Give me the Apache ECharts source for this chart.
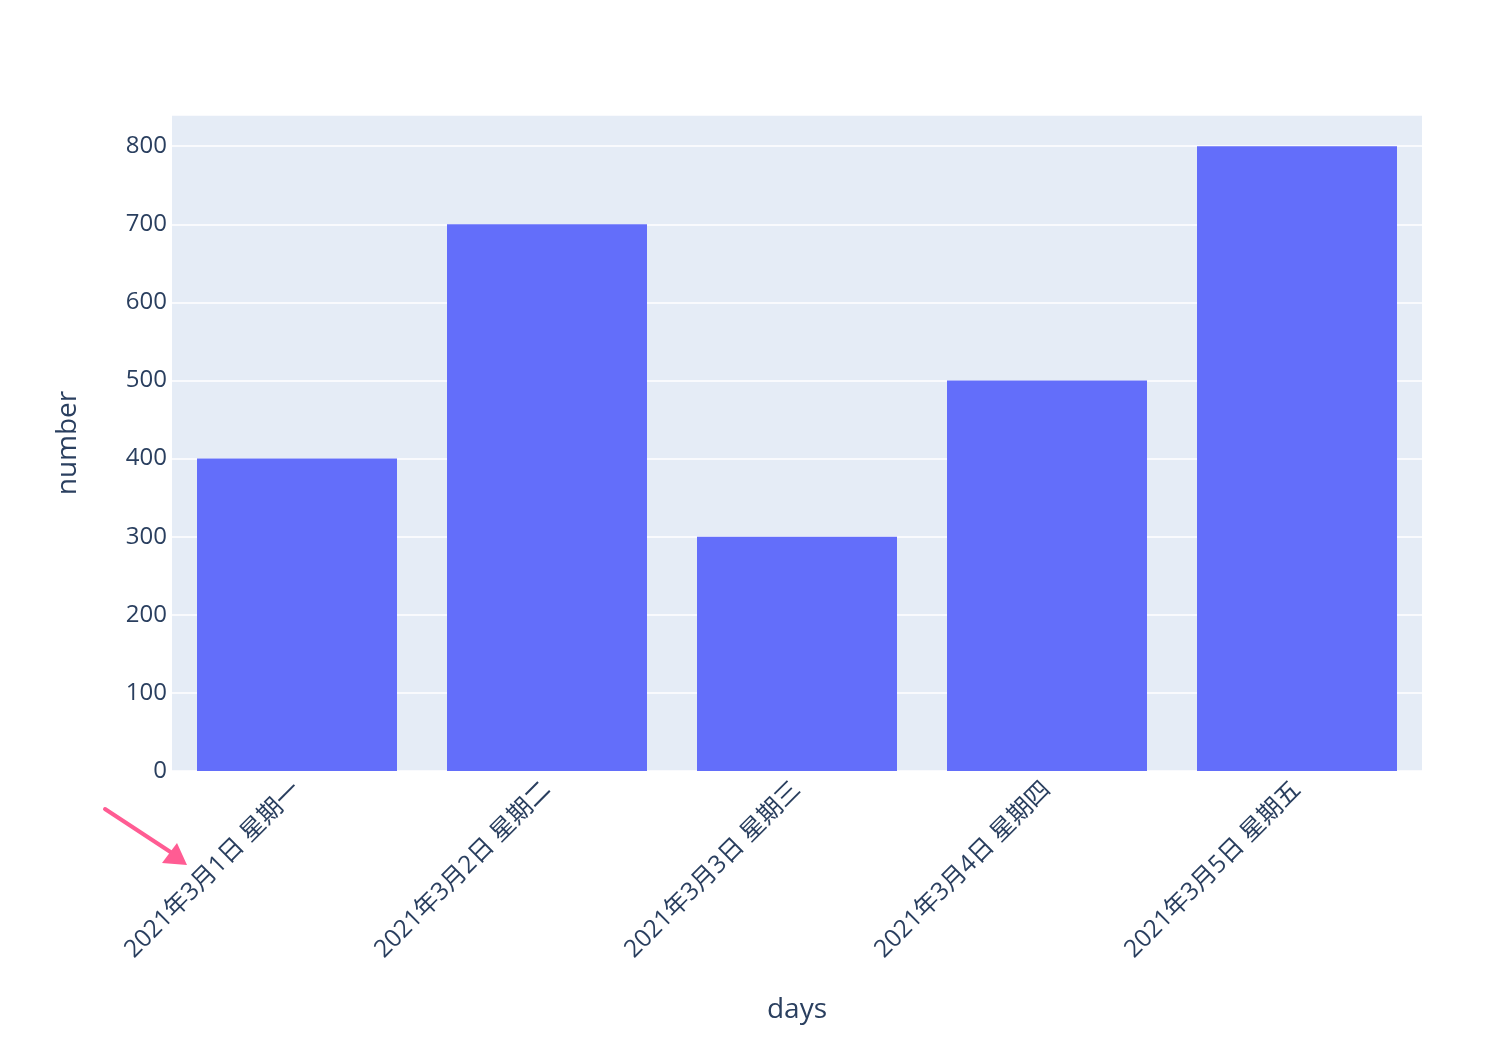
<!DOCTYPE html>
<html>
<head>
<meta charset="utf-8">
<script src="https://cdn.jsdelivr.net/npm/echarts@6/dist/echarts.min.js"></script>
<style>html,body{margin:0;padding:0;background:#fff}#c{width:1512px;height:1042px}</style>
</head>
<body>
<div id="c"></div>
<script>
const categories = ['2021年3月1日 星期一','2021年3月2日 星期二','2021年3月3日 星期三','2021年3月4日 星期四','2021年3月5日 星期五'];
const values = [400, 700, 300, 500, 800];
const yTicks = [0, 100, 200, 300, 400, 500, 600, 700, 800];

const font = '"Open Sans", "Noto Sans CJK SC", verdana, arial, sans-serif';
const txt = '#2a3f5f';
const chart = echarts.init(document.getElementById('c'), null, {renderer: 'canvas'});
chart.setOption({
  animation: false,
  backgroundColor: '#fff',
  grid: {left: 172, right: 90, top: 115, bottom: 271, show: true, backgroundColor: '#E5ECF6', borderWidth: 0},
  xAxis: {
    type: 'category', data: categories,
    name: 'days', nameLocation: 'middle', nameGap: 225,
    nameTextStyle: {fontFamily: font, fontSize: 28, color: txt},
    axisLine: {show: false}, axisTick: {show: false},
    axisLabel: {rotate: 45, fontFamily: font, fontSize: 24.5, color: txt, margin: 15, interval: 0},
    splitLine: {show: false}
  },
  yAxis: {
    type: 'value', min: 0, max: 840, interval: 100,
    name: 'number', nameLocation: 'middle', nameGap: 90,
    nameTextStyle: {fontFamily: font, fontSize: 28, color: txt},
    axisLine: {show: false}, axisTick: {show: false},
    axisLabel: {fontFamily: font, fontSize: 24, color: txt, margin: 5,
      formatter: v => yTicks.includes(v) ? String(v) : ''},
    splitLine: {lineStyle: {color: '#ffffff', width: 1.5}}
  },
  series: [{
    type: 'bar', data: values, barCategoryGap: '20%',
    itemStyle: {color: '#636EFA'}
  }],
  graphic: [
    {type: 'line', shape: {x1: 105, y1: 809, x2: 172, y2: 853},
     style: {stroke: '#FF5C93', lineWidth: 4, lineCap: 'round'}, z: 100},
    {type: 'polygon', shape: {points: [[187, 865], [162, 863], [177, 843]]},
     style: {fill: '#FF5C93'}, z: 100}
  ]
});
</script>
</body>
</html>
